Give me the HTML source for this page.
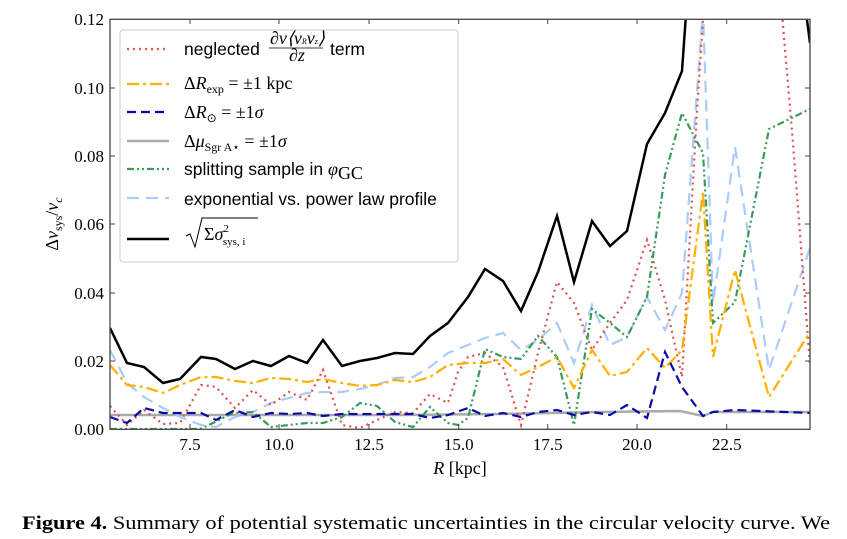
<!DOCTYPE html>
<html><head><meta charset="utf-8"><style>
body{margin:0;background:#fff;width:847px;height:539px;overflow:hidden}
svg{display:block}
.s{font-family:"Liberation Sans",sans-serif;font-size:17.5px}
.m{font-family:"Liberation Serif",serif;font-size:18px}
.t{font-family:"Liberation Serif",serif;font-size:17px}
</style></head><body>
<svg width="847" height="539" viewBox="0 0 847 539" xmlns="http://www.w3.org/2000/svg">
<defs><clipPath id="c"><rect x="110" y="19.3" width="700" height="410"/></clipPath></defs>
<g clip-path="url(#c)" fill="none" stroke-width="2.2">
<polyline stroke="#aaaaaa" stroke-width="2.5" points="110,415 200,415 300,415 400,415 500,414 600,412 680,411 703,416 713,412 810,412"/>
<polyline stroke="#aaccf8" stroke-dasharray="12,7" points="110,350 127,383 144,397 163,408 180,417 201,425 216,427 235,417 253,412 271,403 289,398 307,393 323,392 342,392 360,389 377,385 395,378 413,377 430,367 448,353 468,345 485,338 503,333 521,350 538,340 557,323 574,363 592,305 610,345 627,337 647,297 665,330 682,293 703,10 713,303 735,147 769,370 810,248"/>
<polyline stroke="#e05050" stroke-dasharray="2,4" points="110,406 127,425 144,410 163,424 180,423 201,385 216,387 235,408 253,390 271,405 289,392 307,400 323,370 342,425 360,428 377,420 395,412 413,413 430,394 448,403 458,372 468,357 485,353 503,367 521,425 538,353 557,282 574,303 592,350 610,323 627,300 647,240 665,300 682,377 697,110 705,-10 780,-10 793,143 810,365"/>
<polyline stroke="#3a9a5a" stroke-dasharray="7,3,2,3,2,3" points="110,429 200,429 213,423 233,413 253,412 271,427 289,425 307,423 323,423 342,417 360,403 377,406 395,422 413,427 430,407 448,423 458,425 468,418 485,349 503,357 521,359 538,336 557,357 574,425 592,309 610,323 627,337 647,297 665,175 682,113 703,153 713,323 735,302 769,129 810,109"/>
<polyline stroke="#ffb000" stroke-dasharray="12,4,3,4" points="110,365 127,385 144,387 163,393 180,385 201,377 216,377 235,381 253,383 271,378 289,379 307,382 323,379 342,383 360,386 377,385 395,380 413,382 430,377 448,365 468,363 485,363 503,359 521,375 538,367 557,357 574,388 592,350 610,376 627,372 647,348 665,368 682,350 703,192 713,357 735,270 769,397 810,332"/>
<polyline stroke="#0a0aa8" stroke-dasharray="9,5" points="110,417 127,423 144,408 163,413 180,413 201,413 216,420 235,410 253,417 271,413 289,414 307,413 323,416 342,414 360,414 377,414 395,414 413,414 430,418 448,415 468,408 485,416 503,413 521,417 538,412 557,410 574,415 592,412 610,415 627,405 647,418 665,352 682,387 703,416 713,412 735,410 810,413"/>
<polyline stroke="#000" stroke-width="2.5" points="110,328 127,363 144,367 163,383 180,379 201,357 216,359 235,369 253,361 271,366 289,356 307,363 323,340 342,366 360,361 377,358 395,353 413,354 430,336 448,323 468,297 485,269 503,281 521,311 538,272 557,216 574,282 592,221 610,246 627,231 647,144 665,113 682,71 687,0 805,0 807,20 810,43"/>
</g>
<rect x="110" y="19.3" width="700" height="410" fill="none" stroke="#444" stroke-width="1.3"/>
<g stroke="#444" stroke-width="1">
<line x1="190" y1="429" x2="190" y2="424"/><line x1="279" y1="429" x2="279" y2="424"/><line x1="369" y1="429" x2="369" y2="424"/><line x1="458.7" y1="429" x2="458.7" y2="424"/><line x1="547.7" y1="429" x2="547.7" y2="424"/><line x1="637" y1="429" x2="637" y2="424"/><line x1="726.7" y1="429" x2="726.7" y2="424"/>
<line x1="190" y1="19" x2="190" y2="24"/><line x1="279" y1="19" x2="279" y2="24"/><line x1="369" y1="19" x2="369" y2="24"/><line x1="458.7" y1="19" x2="458.7" y2="24"/><line x1="547.7" y1="19" x2="547.7" y2="24"/><line x1="637" y1="19" x2="637" y2="24"/><line x1="726.7" y1="19" x2="726.7" y2="24"/>
<line x1="110" y1="361" x2="115" y2="361"/><line x1="110" y1="293" x2="115" y2="293"/><line x1="110" y1="224" x2="115" y2="224"/><line x1="110" y1="156" x2="115" y2="156"/><line x1="110" y1="88" x2="115" y2="88"/>
<line x1="810" y1="361" x2="805" y2="361"/><line x1="810" y1="293" x2="805" y2="293"/><line x1="810" y1="224" x2="805" y2="224"/><line x1="810" y1="156" x2="805" y2="156"/><line x1="810" y1="88" x2="805" y2="88"/>
</g>
<g class="t" text-anchor="middle">
<text x="190" y="450">7.5</text><text x="279" y="450">10.0</text><text x="369" y="450">12.5</text><text x="458.7" y="450">15.0</text><text x="547.7" y="450">17.5</text><text x="637" y="450">20.0</text><text x="726.7" y="450">22.5</text>
</g>
<g class="t" text-anchor="end">
<text x="104" y="435">0.00</text><text x="104" y="367">0.02</text><text x="104" y="299">0.04</text><text x="104" y="230">0.06</text><text x="104" y="162">0.08</text><text x="104" y="94">0.10</text><text x="104" y="25">0.12</text>
</g>
<text class="m" x="460" y="474" text-anchor="middle"><tspan font-style="italic">R</tspan> [kpc]</text>
<text class="m" transform="translate(58,224) rotate(-90)" text-anchor="middle">Δ<tspan font-style="italic">v</tspan><tspan font-size="12" dy="4">sys</tspan><tspan dy="-4">/</tspan><tspan font-style="italic">v</tspan><tspan font-size="12" font-style="italic" dy="4">c</tspan></text>
<rect x="120" y="30" width="338" height="232" rx="3" fill="#fff" fill-opacity="0.85" stroke="#ccc"/>
<g fill="none" stroke-width="2.2">
<line x1="127" y1="49" x2="169" y2="49" stroke="#e05050" stroke-dasharray="2,4"/>
<line x1="127" y1="84" x2="169" y2="84" stroke="#ffb000" stroke-dasharray="12,4,3,4"/>
<line x1="127" y1="112" x2="169" y2="112" stroke="#0a0aa8" stroke-dasharray="9,5"/>
<line x1="127" y1="141" x2="169" y2="141" stroke="#aaa" stroke-width="2.5"/>
<line x1="127" y1="169" x2="169" y2="169" stroke="#3a9a5a" stroke-dasharray="7,3,2,3,2,3"/>
<line x1="127" y1="198" x2="169" y2="198" stroke="#aaccf8" stroke-dasharray="12,7"/>
<line x1="127" y1="239" x2="169" y2="239" stroke="#000" stroke-width="2.5"/>
</g>
<text class="s" x="184" y="55">neglected</text>
<text class="m" font-size="11" x="270" y="44" font-style="italic">∂ν⟨v<tspan font-size="8">R</tspan>v<tspan font-size="8">z</tspan>⟩</text>
<line x1="269" y1="48" x2="323" y2="48" stroke="#000" stroke-width="0.8"/>
<text class="m" font-size="11" x="289" y="61" font-style="italic">∂z</text>
<text class="s" x="330" y="55">term</text>
<text class="m" x="184" y="89">Δ<tspan font-style="italic">R</tspan><tspan font-size="12" dy="4">exp</tspan><tspan dy="-4"> = ±1 kpc</tspan></text>
<text class="m" x="184" y="118">Δ<tspan font-style="italic">R</tspan><tspan font-size="12" dy="4">⊙</tspan><tspan dy="-4"> = ±1</tspan><tspan font-style="italic">σ</tspan></text>
<text class="m" x="184" y="147">Δ<tspan font-style="italic">μ</tspan><tspan font-size="12" dy="4">Sgr A⋆</tspan><tspan dy="-4"> = ±1</tspan><tspan font-style="italic">σ</tspan></text>
<text class="s" x="184" y="175">splitting sample in <tspan class="m" font-style="italic">φ</tspan><tspan class="m" font-size="12" dy="4">GC</tspan></text>
<text class="s" x="184" y="205">exponential vs. power law profile</text>
<path d="M186,236 L190,234 L195,247 L202,218 L258,218" fill="none" stroke="#000" stroke-width="1"/>
<text class="m" x="204" y="240">Σ<tspan font-style="italic">σ</tspan><tspan font-size="11" dy="-8">2</tspan><tspan font-size="11" dx="-6" dy="13">sys, i</tspan></text>
<text x="22" y="529" font-family="Liberation Serif,serif" font-size="19" textLength="808" lengthAdjust="spacingAndGlyphs"><tspan font-weight="bold">Figure 4.</tspan> Summary of potential systematic uncertainties in the circular velocity curve. We</text>
</svg>
</body></html>
